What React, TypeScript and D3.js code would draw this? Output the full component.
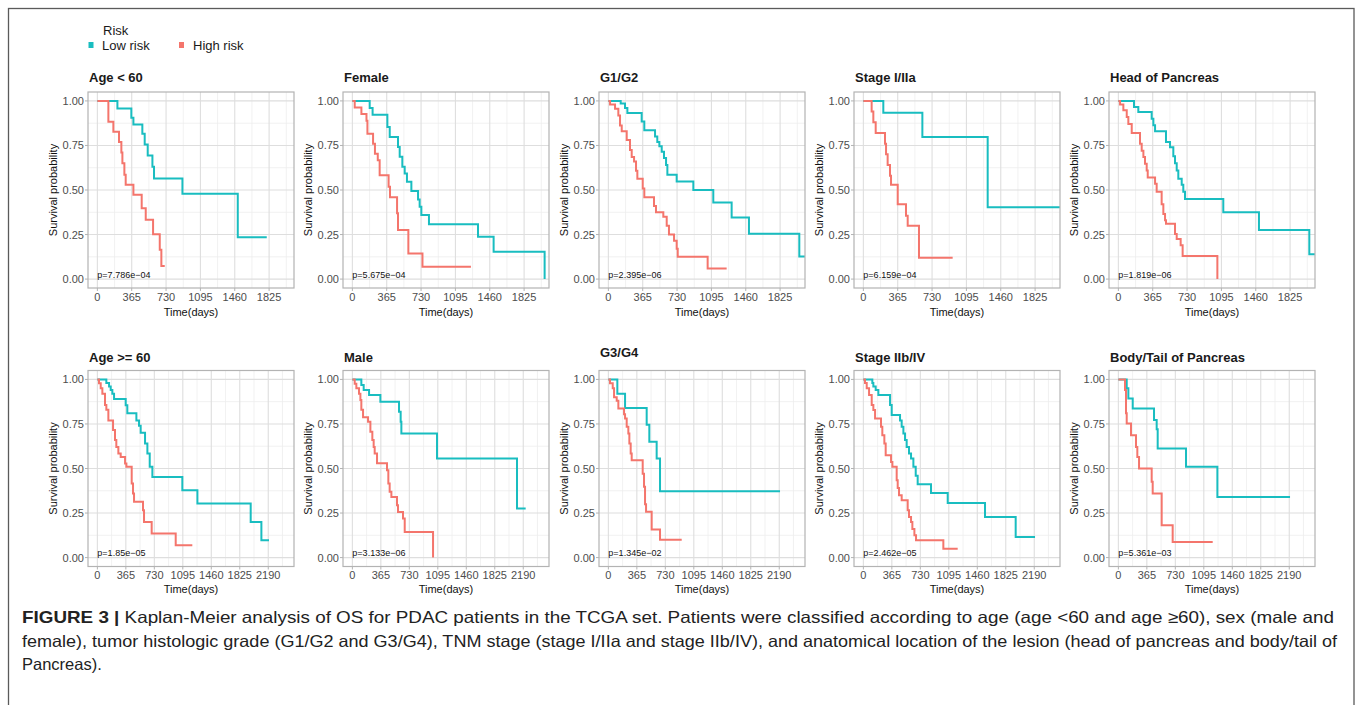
import React from 'react';
import * as d3 from 'd3';

type Pt = [number, number];

// ---------- legend / labels ----------
const riskGroups = ['Low risk', 'High risk'];
const riskColors = ['#19BDC0', '#F4756C'];
const panelTitles = [
  'Age < 60', 'Female', 'G1/G2', 'Stage I/IIa', 'Head of Pancreas',
  'Age >= 60', 'Male', 'G3/G4', 'Stage IIb/IV', 'Body/Tail of Pancreas',
];
const pValues = [
  'p=7.786e\u221204', 'p=5.675e\u221204', 'p=2.395e\u221206', 'p=6.159e\u221204', 'p=1.819e\u221206',
  'p=1.85e\u221205', 'p=3.133e\u221206', 'p=1.345e\u221202', 'p=2.462e\u221205', 'p=5.361e\u221203',
];
const yTickValues = [0, 0.25, 0.5, 0.75, 1];
const xTicksTop = [0, 365, 730, 1095, 1460, 1825];
const xTicksBottom = [0, 365, 730, 1095, 1460, 1825, 2190];
const xLimitTop = 1990;
const xLimitBottom = 2400;

// ---------- survival curves [time(days), survival] ----------
const ageLt60Low: Pt[] = [[0,1],[213,0.957],[361,0.906],[383,0.868],[478,0.816],[503,0.756],[535,0.694],[585,0.63],[602,0.564],[904,0.479],[1492,0.235],[1800,0.235]];
const ageLt60High: Pt[] = [[0,1],[117,0.883],[170,0.827],[230,0.77],[255,0.71],[266,0.65],[287,0.586],[301,0.53],[383,0.474],[471,0.398],[514,0.333],[592,0.252],[663,0.164],[680,0.073],[716,0.073]];

const femaleLow: Pt[] = [[0,1],[184,0.96],[215,0.923],[372,0.854],[397,0.798],[485,0.742],[503,0.686],[531,0.63],[556,0.593],[580,0.546],[627,0.495],[698,0.447],[715,0.406],[733,0.359],[814,0.308],[1335,0.237],[1501,0.153],[2043,0]];
const femaleHigh: Pt[] = [[0,1],[25,0.963],[96,0.926],[150,0.889],[160,0.815],[220,0.759],[240,0.704],[270,0.667],[290,0.583],[385,0.518],[400,0.46],[475,0.37],[485,0.275],[595,0.144],[745,0.069],[1260,0.069]];

const g12Low: Pt[] = [[0,1],[131,0.985],[177,0.96],[202,0.932],[354,0.885],[382,0.836],[496,0.8],[520,0.77],[542,0.745],[567,0.715],[591,0.68],[613,0.64],[627,0.585],[726,0.548],[903,0.5],[1115,0.43],[1310,0.345],[1494,0.255],[2029,0.127],[2089,0.127]];
const g12High: Pt[] = [[0,1],[18,0.98],[71,0.956],[106,0.918],[124,0.862],[142,0.83],[195,0.78],[230,0.724],[248,0.685],[273,0.66],[294,0.608],[308,0.563],[365,0.508],[382,0.46],[485,0.41],[506,0.375],[584,0.35],[620,0.3],[644,0.25],[698,0.215],[726,0.17],[737,0.125],[1055,0.06],[1257,0.06]];

const stageEarlyLow: Pt[] = [[0,1],[212,0.934],[627,0.797],[1321,0.403],[2089,0.403]];
const stageEarlyHigh: Pt[] = [[0,1],[88,0.94],[106,0.88],[131,0.82],[230,0.76],[241,0.7],[258,0.64],[283,0.58],[294,0.53],[365,0.42],[453,0.355],[471,0.3],[591,0.12],[949,0.12]];

const headLow: Pt[] = [[0,1],[166,0.966],[212,0.938],[354,0.9],[372,0.863],[390,0.83],[506,0.77],[549,0.74],[584,0.69],[602,0.65],[620,0.61],[637,0.563],[673,0.53],[690,0.49],[708,0.45],[1115,0.375],[1494,0.276],[2029,0.14],[2089,0.14]];
const headHigh: Pt[] = [[0,1],[18,0.98],[53,0.947],[89,0.91],[106,0.87],[142,0.82],[230,0.76],[248,0.72],[266,0.685],[283,0.647],[301,0.61],[312,0.57],[390,0.535],[407,0.49],[460,0.42],[478,0.366],[496,0.33],[506,0.31],[602,0.253],[620,0.225],[662,0.19],[683,0.13],[1052,0]];

const ageGe60Low: Pt[] = [[0,1],[115,0.98],[150,0.96],[171,0.94],[192,0.92],[214,0.89],[363,0.855],[384,0.81],[500,0.77],[534,0.74],[555,0.7],[611,0.64],[641,0.584],[671,0.51],[705,0.453],[1089,0.378],[1282,0.303],[1965,0.2],[2102,0.097],[2200,0.097]];
const ageGe60High: Pt[] = [[0,1],[21,0.978],[43,0.95],[64,0.92],[98,0.856],[115,0.83],[141,0.77],[201,0.716],[226,0.66],[243,0.62],[269,0.584],[299,0.565],[355,0.528],[372,0.51],[440,0.416],[457,0.36],[470,0.313],[585,0.266],[598,0.2],[696,0.135],[1004,0.069],[1217,0.069]];

const maleLow: Pt[] = [[0,1],[115,0.968],[145,0.94],[214,0.912],[359,0.875],[598,0.818],[619,0.762],[628,0.697],[1085,0.556],[2110,0.275],[2221,0.275]];
const maleHigh: Pt[] = [[0,1],[30,0.975],[51,0.95],[85,0.92],[103,0.884],[115,0.83],[137,0.787],[201,0.762],[231,0.706],[256,0.66],[273,0.62],[286,0.584],[316,0.53],[444,0.49],[461,0.416],[478,0.37],[500,0.34],[572,0.294],[585,0.256],[649,0.22],[671,0.144],[1034,0]];

const g34Low: Pt[] = [[0,1],[115,0.92],[214,0.84],[491,0.745],[525,0.65],[619,0.556],[662,0.372],[2200,0.372]];
const g34High: Pt[] = [[0,1],[21,0.978],[56,0.95],[73,0.9],[107,0.88],[128,0.837],[201,0.805],[214,0.78],[235,0.734],[256,0.697],[269,0.64],[286,0.584],[299,0.546],[440,0.47],[457,0.397],[470,0.3],[483,0.257],[555,0.157],[662,0.1],[940,0.1]];

const stageLateLow: Pt[] = [[0,1],[115,0.98],[128,0.96],[158,0.94],[192,0.912],[342,0.856],[363,0.8],[470,0.77],[491,0.734],[513,0.697],[534,0.66],[555,0.62],[585,0.584],[611,0.556],[641,0.51],[671,0.46],[696,0.412],[867,0.363],[1081,0.307],[1559,0.228],[1952,0.116],[2200,0.116]];
const stageLateHigh: Pt[] = [[0,1],[21,0.98],[43,0.95],[73,0.912],[107,0.856],[128,0.828],[150,0.78],[226,0.734],[243,0.687],[269,0.64],[286,0.575],[355,0.537],[372,0.51],[427,0.434],[440,0.39],[457,0.35],[491,0.322],[568,0.266],[585,0.228],[611,0.2],[628,0.16],[654,0.125],[675,0.097],[1025,0.05],[1209,0.05]];

const bodyTailLow: Pt[] = [[0,1],[107,0.95],[128,0.893],[184,0.837],[457,0.772],[491,0.72],[504,0.612],[867,0.51],[1269,0.34],[2200,0.34]];
const bodyTailHigh: Pt[] = [[0,1],[85,0.94],[98,0.81],[107,0.753],[162,0.687],[226,0.62],[243,0.565],[265,0.5],[427,0.425],[440,0.36],[555,0.182],[696,0.088],[1209,0.088]];

const lowCurves = [ageLt60Low, femaleLow, g12Low, stageEarlyLow, headLow, ageGe60Low, maleLow, g34Low, stageLateLow, bodyTailLow];
const highCurves = [ageLt60High, femaleHigh, g12High, stageEarlyHigh, headHigh, ageGe60High, maleHigh, g34High, stageLateHigh, bodyTailHigh];

const captionLines = [
  'Kaplan-Meier analysis of OS for PDAC patients in the TCGA set. Patients were classified according to age (age <60 and age \u226560), sex (male and',
  'female), tumor histologic grade (G1/G2 and G3/G4), TNM stage (stage I/IIa and stage IIb/IV), and anatomical location of the lesion (head of pancreas and body/tail of',
  'Pancreas).',
];

// ---------- layout ----------
const FONT = "'Liberation Sans', Arial, Helvetica, sans-serif";
const colLeft = [88, 343, 599, 854, 1109];
const rowTop = [92, 370.5];
const PW = 206;
const PH = 196;

function Panel({ idx }: { idx: number }) {
  const row = idx < 5 ? 0 : 1;
  const left = colLeft[idx % 5];
  const top = rowTop[row];
  const xmax = row === 0 ? xLimitTop : xLimitBottom;
  const ticks = row === 0 ? xTicksTop : xTicksBottom;
  const x = d3.scaleLinear().domain([-0.05 * xmax, 1.05 * xmax]).range([left, left + PW]);
  const y = d3.scaleLinear().domain([-0.05, 1.05]).range([top + PH, top]);
  const [dx0, dx1] = x.domain();
  const step = ticks[1] - ticks[0];
  const minorX: number[] = [];
  for (let v = ticks[0] - step / 2; v <= dx1; v += step) if (v >= dx0) minorX.push(v);
  const minorY = [0.125, 0.375, 0.625, 0.875];
  const line = d3.line<Pt>().x(d => x(d[0])).y(d => y(d[1])).curve(d3.curveStepAfter);
  const titleY = (row === 0 ? 82 : 361.5) - (idx === 7 ? 5 : 0);
  return (
    <g>
      <text x={left + 1} y={titleY} fontFamily={FONT} fontWeight="bold" fontSize={13} fill="#1a1a1a">{panelTitles[idx]}</text>
      <rect x={left} y={top} width={PW} height={PH} fill="#fff" />
      {minorX.map((v, i) => (
        <line key={'mx' + i} x1={x(v)} x2={x(v)} y1={top} y2={top + PH} stroke="#eeeeee" strokeWidth={0.8} />
      ))}
      {minorY.map((v, i) => (
        <line key={'my' + i} x1={left} x2={left + PW} y1={y(v)} y2={y(v)} stroke="#eeeeee" strokeWidth={0.8} />
      ))}
      {ticks.map((v, i) => (
        <line key={'gx' + i} x1={x(v)} x2={x(v)} y1={top} y2={top + PH} stroke="#dedede" strokeWidth={1.1} />
      ))}
      {yTickValues.map((v, i) => (
        <line key={'gy' + i} x1={left} x2={left + PW} y1={y(v)} y2={y(v)} stroke="#dedede" strokeWidth={1.1} />
      ))}
      <path d={line(lowCurves[idx]) || ''} fill="none" stroke={riskColors[0]} strokeWidth={2} />
      <path d={line(highCurves[idx]) || ''} fill="none" stroke={riskColors[1]} strokeWidth={2} />
      <rect x={left} y={top} width={PW} height={PH} fill="none" stroke="#b3b3b3" strokeWidth={1.2} />
      {yTickValues.map((v, i) => (
        <g key={'ty' + i}>
          <line x1={left - 3} x2={left} y1={y(v)} y2={y(v)} stroke="#b3b3b3" strokeWidth={1} />
          <text x={left - 4} y={y(v) + 4} textAnchor="end" fontFamily={FONT} fontSize={11} fill="#4d4d4d">{d3.format('.2f')(v)}</text>
        </g>
      ))}
      {ticks.map((v, i) => (
        <g key={'tx' + i}>
          <line x1={x(v)} x2={x(v)} y1={top + PH} y2={top + PH + 3} stroke="#b3b3b3" strokeWidth={1} />
          <text x={x(v)} y={top + PH + 12.5} textAnchor="middle" fontFamily={FONT} fontSize={11} fill="#4d4d4d">{v}</text>
        </g>
      ))}
      <text x={left + PW / 2} y={top + PH + (row === 0 ? 28 : 26)} textAnchor="middle" fontFamily={FONT} fontSize={11} fill="#111">Time(days)</text>
      <text transform={`translate(${left - 31},${top + PH / 2}) rotate(-90)`} textAnchor="middle" fontFamily={FONT} fontSize={11} fill="#111">Survival probability</text>
      <text x={x(0)} y={y(0) - (row === 0 ? 1 : 2)} fontFamily={FONT} fontSize={9} fill="#111">{pValues[idx]}</text>
    </g>
  );
}

export default function App() {
  return (
    <svg width={1355} height={705} style={{ position: 'absolute', left: 0, top: 0, background: '#fff' }}>
      <rect x={0} y={0} width={1355} height={705} fill="#fff" />
      <rect x={8.5} y={8.5} width={1345.5} height={760} fill="none" stroke="#5a5a5a" strokeWidth={1.3} />
      {/* legend */}
      <text x={103} y={34.5} fontFamily={FONT} fontSize={13} fill="#1a1a1a">Risk</text>
      {riskGroups.map((g, i) => (
        <g key={g}>
          <rect x={i === 0 ? 88.5 : 179} y={42} width={5} height={6} fill={riskColors[i]} />
          <text x={i === 0 ? 102 : 193} y={49.5} fontFamily={FONT} fontSize={13} fill="#1a1a1a">{g}</text>
        </g>
      ))}
      {panelTitles.map((_, i) => <Panel key={i} idx={i} />)}
      {/* caption */}
      <text x={22} y={623} fontFamily={FONT} fontSize={16.5} fill="#222" textLength={1312} lengthAdjust="spacingAndGlyphs">
        <tspan fontWeight="bold">FIGURE 3 | </tspan>
        <tspan>{captionLines[0]}</tspan>
      </text>
      <text x={22} y={647} fontFamily={FONT} fontSize={16.5} fill="#222" textLength={1315} lengthAdjust="spacingAndGlyphs">{captionLines[1]}</text>
      <text x={22} y={670} fontFamily={FONT} fontSize={16.5} fill="#222">{captionLines[2]}</text>
    </svg>
  );
}
